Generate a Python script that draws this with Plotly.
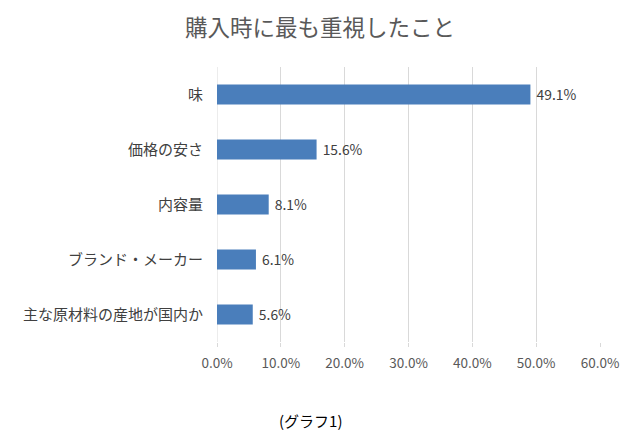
import plotly.graph_objects as go

categories = ["味", "価格の安さ", "内容量", "ブランド・メーカー", "主な原材料の産地が国内か"]
values = [49.1, 15.6, 8.1, 6.1, 5.6]
tick_vals = [0, 10, 20, 30, 40, 50, 60]
tick_text = ["0.0%", "10.0%", "20.0%", "30.0%", "40.0%", "50.0%", "60.0%"]
title = "購入時に最も重視したこと"
caption = "(グラフ1)"

FONT = "Noto Sans CJK JP"

fig = go.Figure(go.Bar(
    x=values,
    y=categories,
    orientation="h",
    marker=dict(color="#4a7ebb", line=dict(width=0)),
    text=[f" {v:.1f}%" for v in values],
    textposition="outside",
    textfont=dict(family=FONT, size=14, color="#404040"),
    cliponaxis=False,
    width=0.36,
))

fig.update_layout(
    width=640, height=442,
    margin=dict(l=209, r=48, t=59, b=108),
    paper_bgcolor="white", plot_bgcolor="white",
    showlegend=False,
    title=dict(text=title, x=0.4875, xanchor="center", y=0.955, yanchor="middle",
               font=dict(family=FONT, size=22.5, color="#595959")),
    font=dict(family=FONT, color="#595959"),
)
fig.update_xaxes(
    range=[0, 60], tickvals=tick_vals, ticktext=tick_text,
    showgrid=True, gridcolor="#d9d9d9", gridwidth=1,
    zeroline=False, showline=False,
    ticks="outside", ticklen=4, tickcolor="#d9d9d9",
    ticklabelstandoff=5,
    tickfont=dict(family=FONT, size=13.5, color="#595959"),
)
fig.update_yaxes(
    categoryorder="array", categoryarray=categories[::-1],
    showgrid=False, zeroline=False, showline=False,
    ticks="", ticklabelstandoff=13,
    tickfont=dict(family=FONT, size=15, color="#404040"),
)
fig.add_annotation(text=caption, xref="paper", yref="paper", x=0.243, y=-0.284,
                   xanchor="center", yanchor="middle", showarrow=False,
                   font=dict(family=FONT, size=15, color="#000000"))
fig.add_shape(type="line", xref="x", yref="paper", x0=0, x1=0, y0=0, y1=1,
              line=dict(color="#d9d9d9", width=1), layer="below")

fig.write_html("out.html")
